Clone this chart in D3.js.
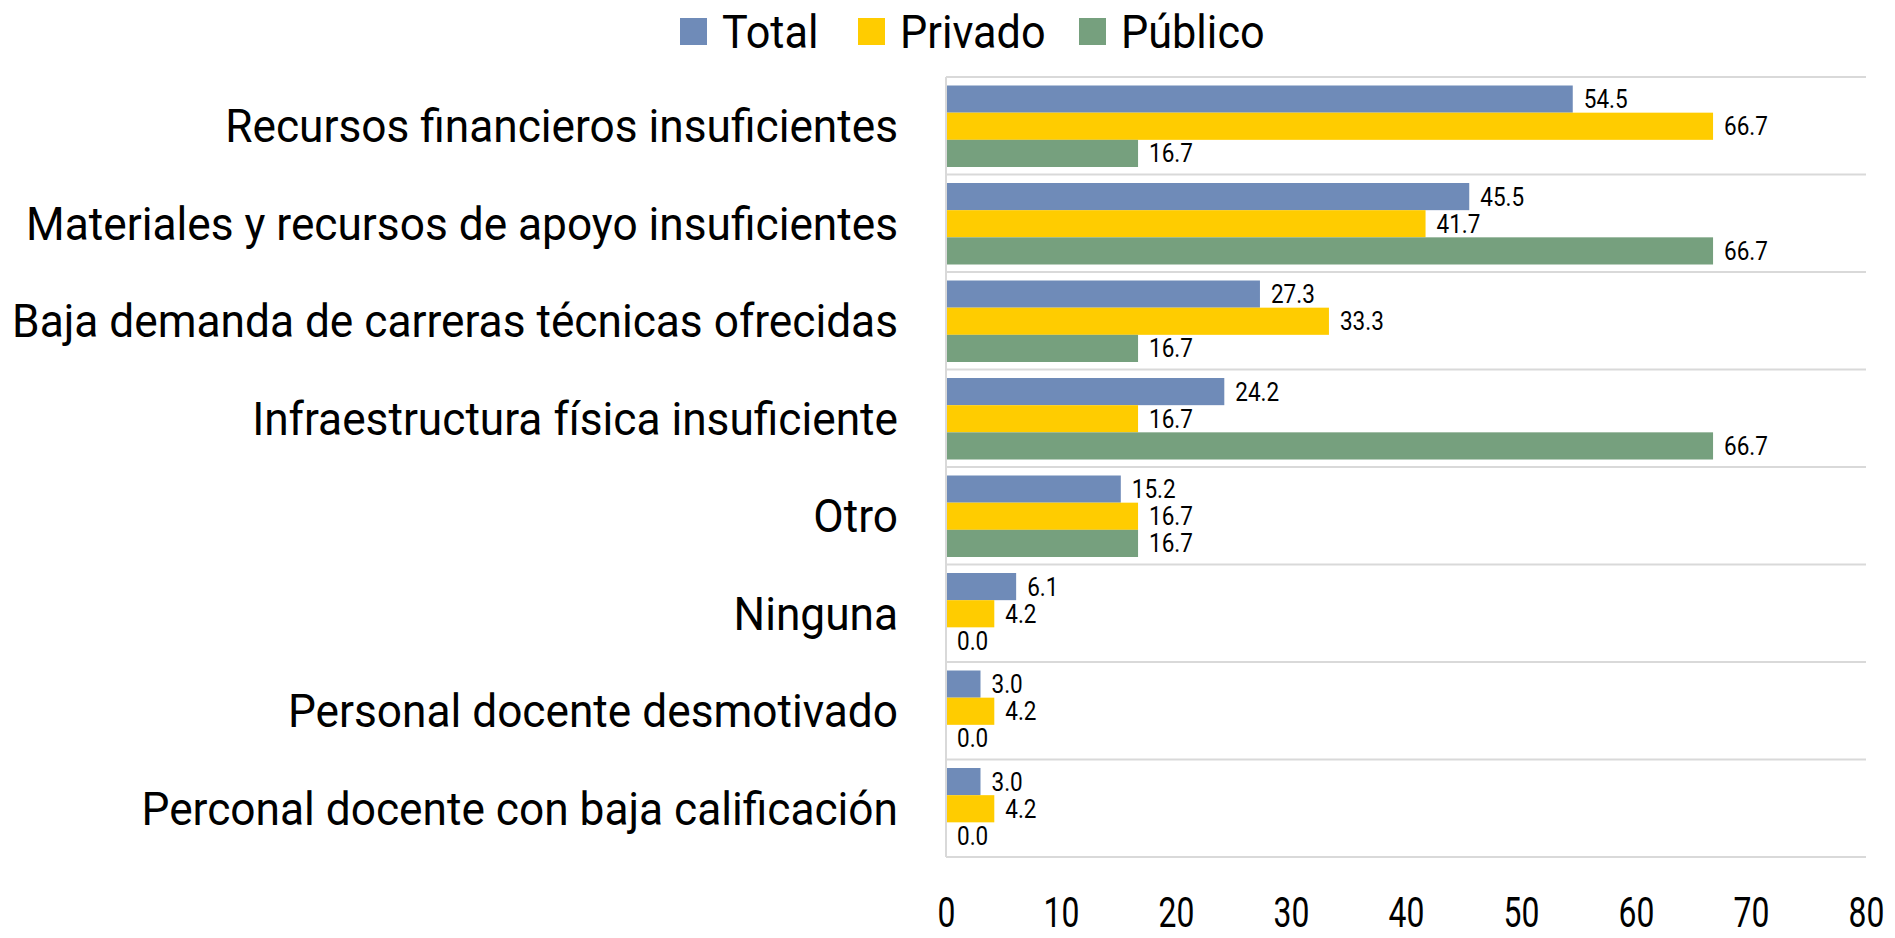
<!DOCTYPE html>
<html>
<head>
<meta charset="utf-8">
<script src="https://cdn.jsdelivr.net/npm/d3@7"></script>
<style>
  body { margin: 0; background: #fff; }
  text { font-family: Roboto, "Liberation Sans", sans-serif; fill: #000; }
</style>
</head>
<body>
<svg id="chart" width="1895" height="938"></svg>
<script>
const categories = [
  'Recursos financieros insuficientes',
  'Materiales y recursos de apoyo insuficientes',
  'Baja demanda de carreras técnicas ofrecidas',
  'Infraestructura física insuficiente',
  'Otro',
  'Ninguna',
  'Personal docente desmotivado',
  'Perconal docente con baja calificación'
];
const seriesNames = ['Total', 'Privado', 'Público'];
const totalVals = [54.5, 45.5, 27.3, 24.2, 15.2, 6.1, 3.0, 3.0];
const privadoVals = [66.7, 41.7, 33.3, 16.7, 16.7, 4.2, 4.2, 4.2];
const publicoVals = [16.7, 66.7, 16.7, 66.7, 16.7, 0.0, 0.0, 0.0];
const xTicks = [0, 10, 20, 30, 40, 50, 60, 70, 80];
const colors = ['#6f8bb8', '#ffcc00', '#76a07e'];

const seriesVals = [totalVals, privadoVals, publicoVals];

const svg = d3.select('#chart');
const plot = { left: 946, right: 1866, top: 77, bottom: 857 };

const x = d3.scaleLinear().domain([0, 80]).range([plot.left, plot.right]);
const y = d3.scaleBand().domain(categories).range([plot.top, plot.bottom]).padding(0);
const bw = y.bandwidth();
const ySub = d3.scaleBand().domain(seriesNames).range([8.5, bw - 7.5]).padding(0);

// squeeze a text horizontally to mimic the condensed face
function condense(sel, sx) {
  sel.attr('transform', function() {
    const t = d3.select(this);
    const tx = +t.attr('data-x'), ty = +t.attr('data-y');
    return `translate(${tx},${ty}) scale(${sx},1)`;
  });
}

// category separators
svg.append('g')
  .selectAll('line')
  .data(d3.range(categories.length + 1))
  .join('line')
  .attr('x1', plot.left).attr('x2', plot.right)
  .attr('y1', i => plot.top + i * bw).attr('y2', i => plot.top + i * bw)
  .attr('stroke', '#d9d9d9').attr('stroke-width', 2);

// bars
const groups = svg.append('g')
  .selectAll('g')
  .data(categories)
  .join('g')
  .attr('transform', d => `translate(0,${y(d)})`);

seriesNames.forEach((s, si) => {
  groups.append('rect')
    .attr('x', x(0))
    .attr('y', ySub(s))
    .attr('width', (d, i) => x(seriesVals[si][i]) - x(0))
    .attr('height', ySub.bandwidth())
    .attr('fill', colors[si]);

  groups.append('text')
    .attr('data-x', (d, i) => x(seriesVals[si][i]) + 11)
    .attr('data-y', ySub(s) + ySub.bandwidth() / 2)
    .attr('dy', '0.36em')
    .style('font-size', '25px')
    .text((d, i) => seriesVals[si][i].toFixed(1))
    .call(condense, 0.9);
});

// left axis line
svg.append('line')
  .attr('x1', plot.left).attr('x2', plot.left)
  .attr('y1', plot.top).attr('y2', plot.bottom)
  .attr('stroke', '#d9d9d9').attr('stroke-width', 2);

// category labels
const catLabels = svg.append('g')
  .selectAll('text')
  .data(categories)
  .join('text')
  .attr('data-x', 898)
  .attr('data-y', d => y(d) + bw / 2)
  .attr('dy', '0.36em')
  .attr('text-anchor', 'end')
  .style('font-size', '46px')
  .text(d => d);
const firstLen = catLabels.node().getComputedTextLength();
catLabels.call(condense, 673 / firstLen);

// x axis tick labels
const xAxis = svg.append('g')
  .attr('transform', `translate(0,${plot.bottom})`)
  .call(d3.axisBottom(x).tickValues(xTicks).tickSize(0).tickFormat(d3.format('d')));
xAxis.select('.domain').remove();
xAxis.selectAll('text')
  .attr('y', 0).attr('dy', 0)
  .attr('data-x', 0).attr('data-y', 70)
  .style('font-size', '42px')
  .style('font-family', 'Roboto, sans-serif')
  .attr('fill', '#000')
  .call(condense, 0.76);

// legend
const legendX = [680, 858, 1079];
const legend = svg.append('g')
  .selectAll('g')
  .data(seriesNames)
  .join('g')
  .attr('transform', (d, i) => `translate(${legendX[i]},18)`);
legend.append('rect')
  .attr('width', 27).attr('height', 27)
  .attr('fill', (d, i) => colors[i]);
legend.append('text')
  .attr('data-x', 42).attr('data-y', 13.5)
  .attr('dy', '0.36em')
  .style('font-size', '47px')
  .text(d => d)
  .call(condense, 0.92);
</script>
</body>
</html>
